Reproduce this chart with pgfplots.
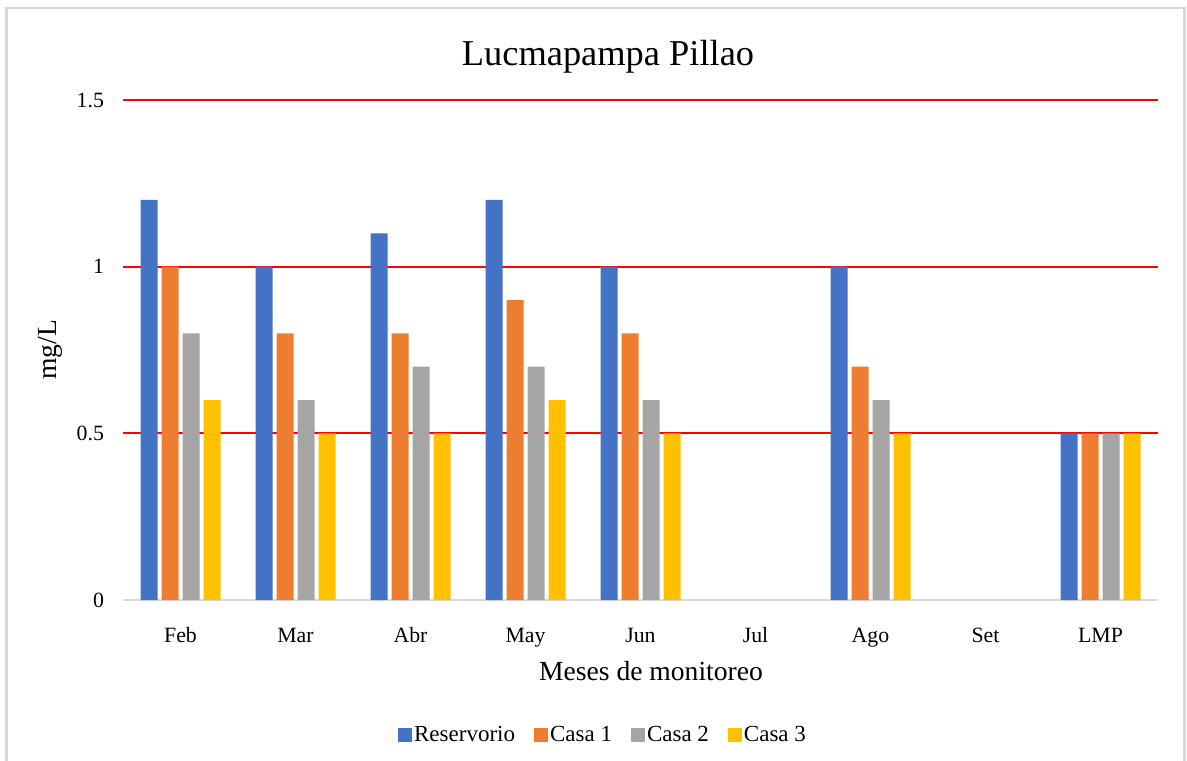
\documentclass[border=0pt]{standalone}
\usepackage{fontspec}
\setmainfont{Liberation Serif}
\usepackage{pgfplots}
\pgfplotsset{compat=1.18}
\definecolor{cRes}{HTML}{4472C4}
\definecolor{cC1}{HTML}{ED7D31}
\definecolor{cC2}{HTML}{A5A5A5}
\definecolor{cC3}{HTML}{FFC000}
\definecolor{frameg}{HTML}{D9D9D9}
\begin{document}
\begin{tikzpicture}
\path[use as bounding box] (-61.5pt,-80pt) rectangle (532pt,300pt);
\draw[frameg, line width=1.2pt] (-58.25pt,-81pt) -- (-58.25pt,296pt) -- (530.75pt,296pt) -- (530.75pt,-81pt);
\begin{axis}[
  name=ax,
  at={(0pt,0pt)}, anchor=south west,
  scale only axis,
  width=517.5pt, height=250pt,
  ybar, bar width=8.5pt,
  xmin=-0.5, xmax=8.5,
  ymin=0, ymax=1.5,
  ytick={0,0.5,1,1.5},
  yticklabels={0,0.5,1,1.5},
  xtick={0,...,8},
  xticklabels={Feb,Mar,Abr,May,Jun,Jul,Ago,Set,LMP},
  major tick length=0pt,
  axis line style={draw=none},
  ymajorgrids,
  major grid style={red, line width=1pt},
  extra y ticks={0},
  extra y tick labels={},
  extra y tick style={major grid style={frameg, line width=1.2pt}},
  tick label style={font=\fontsize{10.9}{12}\selectfont, /pgf/number format/assume math mode=true},
  xticklabel style={anchor=base, yshift=-21pt},
  yticklabel style={anchor=east, xshift=-6pt},
  legend style={draw=none, fill=none, at={(axis description cs:0.4638,-0.27)}, anchor=center,
    legend columns=4, font=\fontsize{11.5}{13}\selectfont,
    /tikz/every even column/.append style={column sep=8.5pt},
    nodes={inner sep=1pt}},
  legend image code/.code={\fill[#1,draw=none] (0pt,-3.5pt) rectangle (7pt,3.5pt);},
  clip=false,
]
\addplot[fill=cRes, draw=none, bar shift=-15.75pt] coordinates {(0,1.2) (1,1.0) (2,1.1) (3,1.2) (4,1.0) (6,1.0) (8,0.5)};
\addplot[fill=cC1, draw=none, bar shift=-5.25pt] coordinates {(0,1.0) (1,0.8) (2,0.8) (3,0.9) (4,0.8) (6,0.7) (8,0.5)};
\addplot[fill=cC2, draw=none, bar shift=5.25pt] coordinates {(0,0.8) (1,0.6) (2,0.7) (3,0.7) (4,0.6) (6,0.6) (8,0.5)};
\addplot[fill=cC3, draw=none, bar shift=15.75pt] coordinates {(0,0.6) (1,0.5) (2,0.5) (3,0.6) (4,0.5) (6,0.5) (8,0.5)};
\legend{Reservorio, Casa 1, Casa 2, Casa 3}
\end{axis}
\node[font=\fontsize{18.2}{21}\selectfont] at (242.5pt,271.5pt) {Lucmapampa Pillao};
\node[font=\fontsize{13.8}{16}\selectfont] at (264pt,-35.5pt) {Meses de monitoreo};
\node[font=\fontsize{13.8}{16}\selectfont, rotate=90] at ([xshift=-36.5pt]ax.west) {mg/L};
\end{tikzpicture}
\end{document}
